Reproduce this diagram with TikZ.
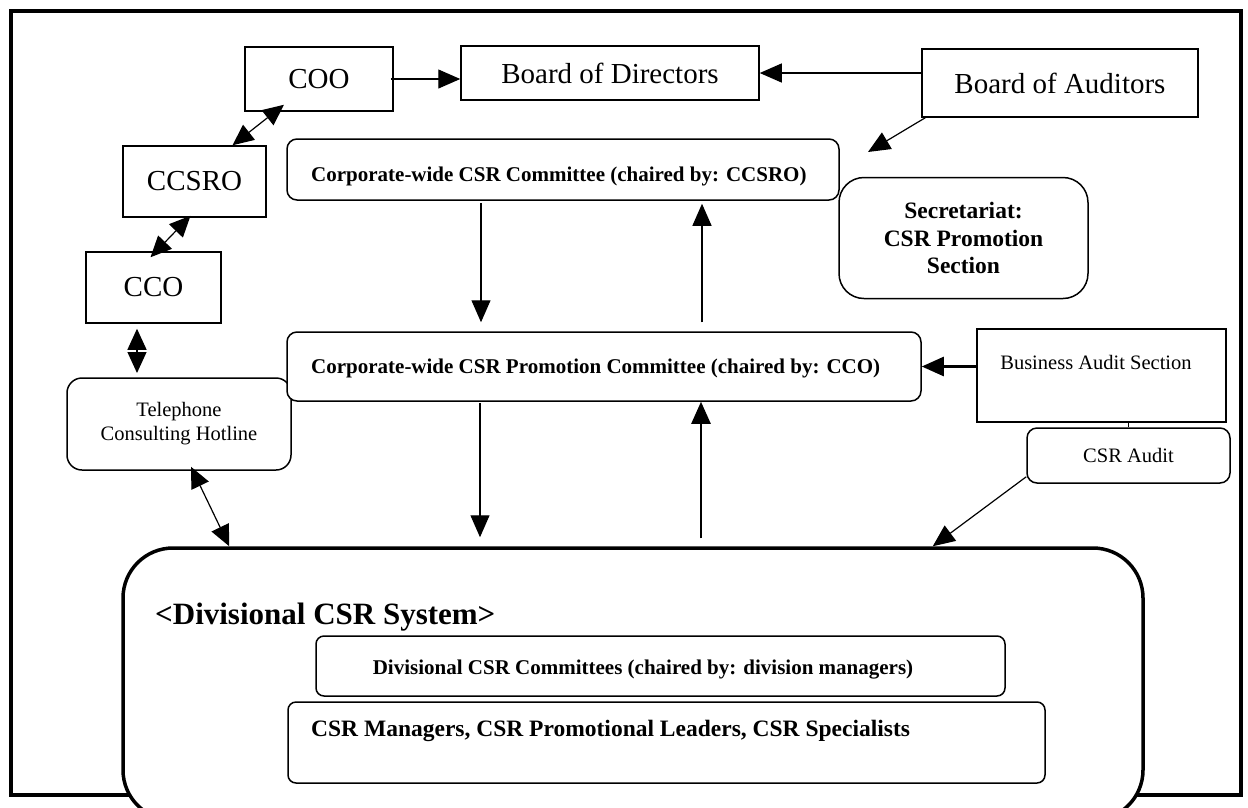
\documentclass[tikz,border=0pt]{standalone}
\usepackage{fontspec}
\setmainfont{Liberation Serif}
\usetikzlibrary{arrows.meta,positioning,calc}

\tikzset{
  box/.style={draw, line width=1.5pt, inner sep=0pt, fill=white},
  rbox/.style={box, rounded corners=10pt},
  arr/.style={line width=1.2pt, -{Triangle[length=22pt,width=19pt]}},
  dblarr/.style={line width=1.2pt, {Triangle[length=21pt,width=19pt]}-{Triangle[length=21pt,width=19pt]}},
  big/.style={inner sep=0pt, font=\fontsize{29}{33}\selectfont},
  mid/.style={inner sep=0pt, align=center, font=\fontsize{20.5}{25}\selectfont},
  bmid/.style={inner sep=0pt, font=\bfseries\fontsize{21}{25}\selectfont},
  blarge/.style={inner sep=0pt, align=center, font=\bfseries\fontsize{23.5}{27.5}\selectfont},
}

\begin{document}
\begin{tikzpicture}[x=1pt,y=-1pt]
\useasboundingbox (0,0) rectangle (1248,807);
\draw[line width=4pt] (11,11) rectangle (1241,795);

\node[box, big, minimum width=148pt, minimum height=64pt] (coo) at (319,79) {COO};
\node[box, big, minimum width=298pt, minimum height=54pt] (bod) at (610,73) {Board of Directors};
\node[box, big, minimum width=276pt, minimum height=68pt] (boa) at (1060,83) {Board of Auditors};
\node[box, big, minimum width=143pt, minimum height=71pt] (ccsro) at (194.5,181.5) {CCSRO};
\node[box, big, minimum width=135pt, minimum height=71pt] (cco) at (153.5,287.5) {CCO};
\node[rbox, rounded corners=15pt, mid, minimum width=224pt, minimum height=92pt] (hotline) at (179,424) {Telephone\\[-1pt]Consulting Hotline};

\node[rbox, minimum width=552pt, minimum height=61pt] (csrc) at (563,169.5) {};
\node[bmid, anchor=west] (csrctext) at (311,176) {Corporate-wide CSR Committee (chaired by: CCSRO)};
\node[rbox, rounded corners=25pt, blarge, minimum width=249pt, minimum height=121pt] (secr) at (963.5,238) {Secretariat:\\CSR Promotion\\Section};
\node[rbox, minimum width=634pt, minimum height=69pt] (promo) at (604,366.5) {};
\node[bmid, anchor=west] (promotext) at (311,368) {Corporate-wide CSR Promotion Committee (chaired by: CCO)};
\node[box, minimum width=249pt, minimum height=93pt] (bas) at (1101.5,375.5) {};
\node[mid] (bastext) at (1096,362) {Business Audit Section};
\node[rbox, mid, minimum width=203pt, minimum height=55pt] (audit) at (1128.5,455.5) {CSR Audit};

\node[box, line width=3.5pt, rounded corners=50pt, minimum width=1020pt, minimum height=272pt] (div) at (633,684) {};
\node[inner sep=0pt, anchor=west, font=\bfseries\fontsize{31}{35}\selectfont] (divtitle) at (155,617) {<Divisional CSR System>};
\node[rbox, rounded corners=8pt, minimum width=689pt, minimum height=60pt] (divcom) at (660.5,666) {};
\node[bmid] (divcomtext) at (643,670) {Divisional CSR Committees (chaired by: division managers)};
\node[rbox, rounded corners=8pt, minimum width=757pt, minimum height=81pt] (mgrs) at (666.5,742.5) {};
\node[blarge, anchor=west] (mgrstext) at (311,731) {CSR Managers, CSR Promotional Leaders, CSR Specialists};

\coordinate (boatip) at (868,152);
\coordinate (hotin) at (137,373);

\draw[arr] ([xshift=-3pt]coo.east) -- (coo.east -| bod.west);
\draw[arr] (boa.west |- bod.east) -- (bod.east);
\draw[arr] ([xshift=4pt]boa.south west) -- (boatip);
\draw[dblarr] ([xshift=38pt]ccsro.north) -- ([xshift=-35pt,yshift=7pt]coo.south);
\draw[dblarr] ([xshift=-3pt,yshift=-6pt]cco.north) -- ([xshift=-4pt,yshift=2pt]ccsro.south);
\draw[dblarr] ([xshift=-16.5pt,yshift=-5pt]cco.south) -- (hotin);
\draw[dblarr] ([xshift=12pt,yshift=4pt]hotline.south) -- ([xshift=108pt]div.north west);

\draw[arr] ([xshift=-82pt,yshift=-2pt]csrc.south) -- ([xshift=-123pt,yshift=9pt]promo.north);
\draw[arr] ([xshift=98pt,yshift=9pt]promo.north) -- ([xshift=139pt,yshift=-3pt]csrc.south);
\draw[arr] ([xshift=-124pt,yshift=-1pt]promo.south) -- ([xshift=-153pt,yshift=9pt]div.north);
\draw[arr, line width=2.5pt] ([xshift=68pt,yshift=8pt]div.north) -- ([xshift=97pt]promo.south);
\draw[arr, line width=2.5pt] (bas.west |- promo.east) -- (promo.east);
\draw[line width=1.2pt] (audit.north |- bas.south) -- (audit.north);
\draw[arr] ([yshift=7pt]audit.south west) -- ([xshift=-212pt]div.north east);
\end{tikzpicture}
\end{document}
